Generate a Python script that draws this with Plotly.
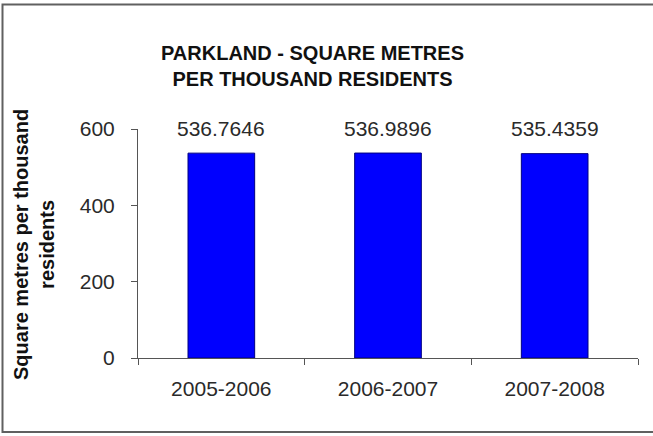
import plotly.graph_objects as go

categories = ["2005-2006", "2006-2007", "2007-2008"]
values = [536.7646, 536.9896, 535.4359]
value_labels = ["536.7646", "536.9896", "535.4359"]
y_ticks = [0, 200, 400, 600]

W, H = 653, 436
L, R, T, B = 138, 15, 129, 78
PW, PH = W - L - R, H - T - B

def px_x(x):
    return (x - L) / PW

def px_y(y):
    return (H - B - y) / PH

FONT = "Liberation Sans, Arial, sans-serif"
TXT = "#2a2a2a"

fig = go.Figure(go.Bar(
    x=categories, y=values,
    marker=dict(color="#0000FF", line=dict(color="#000080", width=1)),
    width=0.4,
))

label_anns = [
    dict(x=c, y=v, text=t, xref="x", yref="y", showarrow=False,
         yanchor="middle", yshift=25, font=dict(size=21, color=TXT))
    for c, v, t in zip(categories, values, value_labels)
]

fig.update_layout(
    width=W, height=H, margin=dict(l=L, r=R, t=T, b=B),
    paper_bgcolor="white", plot_bgcolor="white", showlegend=False,
    font=dict(family=FONT, color=TXT),
    xaxis=dict(showline=True, linecolor="#555555", linewidth=1, ticks="outside",
               tickson="boundaries", ticklen=6, tickcolor="#555555",
               ticklabelstandoff=12,
               tickfont=dict(size=21, color=TXT), showgrid=False),
    yaxis=dict(range=[0, 600], tickvals=y_ticks, showline=True, linecolor="#555555",
               linewidth=1, ticks="outside", ticklen=6, tickcolor="#555555",
               ticklabelstandoff=12,
               tickfont=dict(size=21, color=TXT), showgrid=False, zeroline=False),
    annotations=label_anns + [
        dict(text="<b>PARKLAND - SQUARE METRES<br>PER THOUSAND RESIDENTS</b>",
             xref="paper", yref="paper", x=px_x(312), y=px_y(66), showarrow=False,
             xanchor="center", yanchor="middle",
             font=dict(size=20, color="#111111")),
        dict(text="<b>Square metres per thousand<br>residents</b>",
             xref="paper", yref="paper", x=px_x(34), y=px_y(245), showarrow=False,
             textangle=-90, xanchor="center", yanchor="middle",
             font=dict(size=20, color="#111111")),
    ],
    shapes=[dict(type="rect", xref="paper", yref="paper",
                 x0=px_x(2.5), x1=px_x(656), y0=px_y(432), y1=px_y(4.5),
                 line=dict(color="#606060", width=2))],
)

fig.write_html("out.html", config={"displayModeBar": False},
               post_script="document.body.style.margin='0';document.body.style.overflow='hidden';")
